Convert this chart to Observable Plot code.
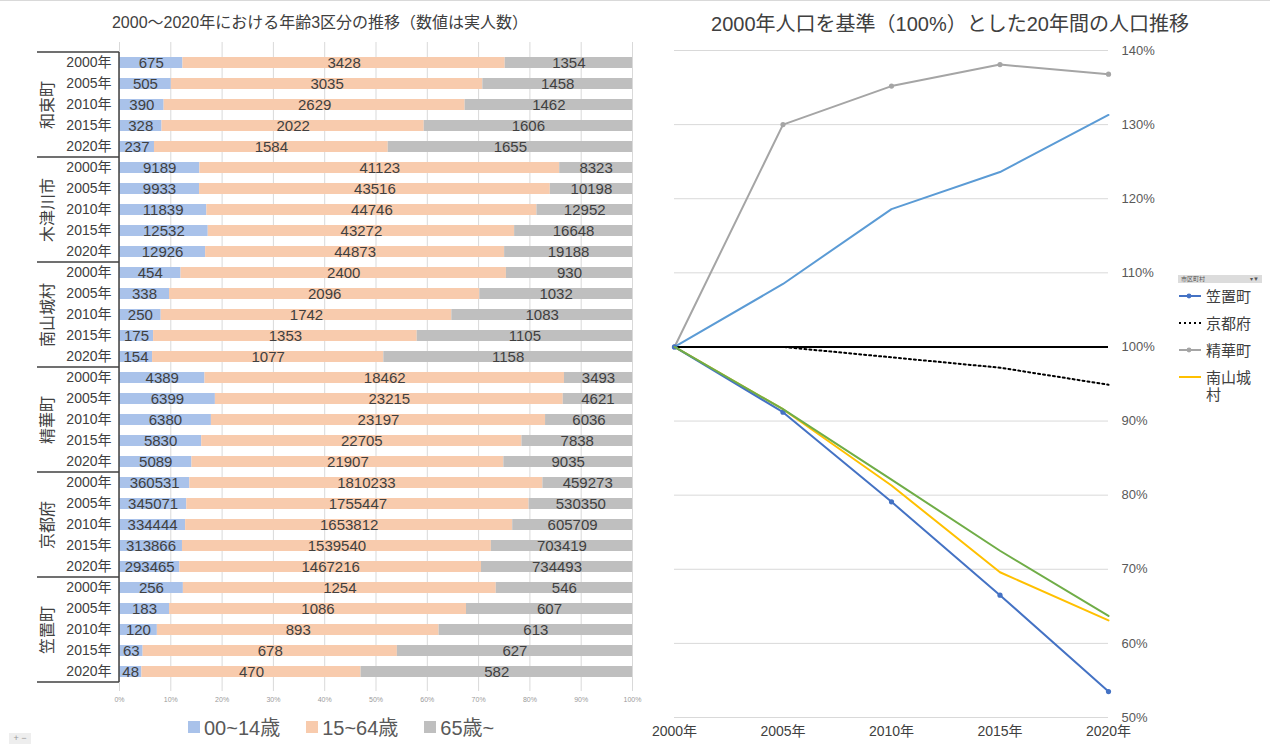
<!DOCTYPE html>
<html><head><meta charset="utf-8">
<script src="https://cdn.jsdelivr.net/npm/d3@7"></script>
<script src="https://cdn.jsdelivr.net/npm/@observablehq/plot@0.6"></script>
<style>
body{margin:0;width:1270px;height:744px;position:relative;overflow:hidden;background:#fff;font-family:"Liberation Sans","Noto Sans CJK JP",sans-serif;color:#404040}
.abs{position:absolute}
.lg1{display:inline-flex;align-items:center;font-size:20px;color:#595959}
.lg1 i{display:inline-block;width:12px;height:12px;margin-right:4px}
.lg2 div{display:flex;align-items:flex-start;font-size:15px;color:#404040;line-height:17px}
</style></head><body>
<div class="abs" style="left:0;top:0;width:1270px;height:1px;background:#d9d9d9"></div>
<div id="left" class="abs" style="left:0;top:0"></div>
<div id="right" class="abs" style="left:640px;top:0"></div>
<div class="abs" style="left:0;width:640px;top:9px;text-align:center;font-size:16px;color:#404040">2000～2020年における年齢3区分の推移（数値は実人数）</div>
<div class="abs" style="left:640px;width:620px;top:8px;text-align:center;font-size:20px;color:#404040">2000年人口を基準（100%）とした20年間の人口推移</div>
<div id="legend1" class="abs" style="left:188px;top:712px;white-space:nowrap"></div>
<div id="legend2" class="abs lg2" style="left:1178px;top:275px;width:84px"></div>
<div class="abs" style="left:9px;top:733px;width:22px;height:11px;background:#eee;font-size:9px;color:#999;line-height:11px;text-align:center">+ −</div>
<script>
// ---------- Left chart data ----------
const municipalities = ["和束町","木津川市","南山城村","精華町","京都府","笠置町"];
const years = ["2000年","2005年","2010年","2015年","2020年"];
const ageGroups = ["00~14歳","15~64歳","65歳~"];
const young = [675,505,390,328,237, 9189,9933,11839,12532,12926, 454,338,250,175,154, 4389,6399,6380,5830,5089, 360531,345071,334444,313866,293465, 256,183,120,63,48];
const working = [3428,3035,2629,2022,1584, 41123,43516,44746,43272,44873, 2400,2096,1742,1353,1077, 18462,23215,23197,22705,21907, 1810233,1755447,1653812,1539540,1467216, 1254,1086,893,678,470];
const elderly = [1354,1458,1462,1606,1655, 8323,10198,12952,16648,19188, 930,1032,1083,1105,1158, 3493,4621,6036,7838,9035, 459273,530350,605709,703419,734493, 546,607,613,627,582];
const xTicks = [0,0.1,0.2,0.3,0.4,0.5,0.6,0.7,0.8,0.9,1];
const ageColors = ["#A9C2EA","#F8CBAD","#BFBFBF"];

// ---------- Right chart data ----------
const lineYears = [2000,2005,2010,2015,2020];
const yTicks = [50,60,70,80,90,100,110,120,130,140];
const kasagi = [100,91.2,79.1,66.5,53.5];
const kyotoFu = [100,100.0,98.6,97.2,94.9];
const seika = [100,130.0,135.2,138.1,136.8];
const kizugawa = [100,108.5,118.6,123.6,131.3];
const minamiyamashiro = [100,91.6,81.3,69.6,63.1];
const wazuka = [100,91.6,82.1,72.5,63.7];
const baseline = [100];

const font = '"Liberation Sans","Noto Sans CJK JP",sans-serif';

// ---------- Left chart ----------
const rows = [];
const keys = [];
municipalities.forEach((m, i) => years.forEach((yr, j) => {
  const k = i * 5 + j;
  const key = m + "|" + yr;
  keys.push(key);
  [young, working, elderly].forEach((arr, a) => rows.push({key, muni: m, year: yr, age: ageGroups[a], value: arr[k]}));
}));
const groupMid = municipalities.map(m => ({muni: m, key: m + "|" + years[2]}));

const left = Plot.plot({
  width: 640, height: 710,
  marginLeft: 119, marginRight: 8, marginTop: 42, marginBottom: 19,
  style: {fontFamily: font, color: "#404040", background: "transparent", overflow: "visible"},
  x: {domain: [0, 1]},
  y: {domain: keys, paddingInner: 0.5, paddingOuter: 0.25},
  color: {domain: ageGroups, range: ageColors},
  marks: [
    Plot.gridX(xTicks, {stroke: "#d9d9d9", strokeOpacity: 1}),
    Plot.barX(rows, {x: "value", y: "key", fill: "age", order: ageGroups, offset: "normalize"}),
    Plot.textX(rows, Plot.stackX({x: "value", y: "key", z: "age", order: ageGroups, offset: "normalize", text: d => String(d.value), fill: "#404040", fontSize: 15})),
    Plot.axisX({ticks: xTicks, tickFormat: d => Math.round(d * 100) + "%", tickSize: 0, tickPadding: 6, fontSize: 7, label: null, color: "#9a9a9a"}),
    Plot.axisY({tickFormat: k => k.split("|")[1], tickSize: 0, tickPadding: 8, fontSize: 14, label: null, color: "#404040"}),
    Plot.text(groupMid, {y: "key", text: "muni", frameAnchor: "left", textAnchor: "middle", lineAnchor: "middle", dx: -72, rotate: -90, fontSize: 16, fill: "#404040"})
  ]
});
document.getElementById("left").appendChild(left);

// box lines around group labels, derived from the y scale
{
  const ys = left.scale("y");
  const step = ys.apply(keys[1]) - ys.apply(keys[0]);
  const pad = (step - ys.bandwidth) / 2;
  const x0 = left.scale("x").apply(0);
  const svg = d3.select(left);
  const bounds = municipalities.map((m, i) => ys.apply(keys[i * 5]) - pad);
  bounds.push(ys.apply(keys[keys.length - 1]) + ys.bandwidth + pad);
  const g = svg.append("g").attr("stroke", "#404040").attr("stroke-width", 1.5);
  bounds.forEach(b => g.append("line").attr("x1", 37).attr("x2", x0).attr("y1", b).attr("y2", b));
  g.append("line").attr("x1", x0).attr("x2", x0).attr("y1", bounds[0]).attr("y2", bounds[bounds.length - 1]);
}

// left legend
{
  const lg = document.getElementById("legend1");
  ageGroups.forEach((a, i) => {
    const s = document.createElement("span");
    s.className = "lg1";
    s.style.marginRight = i < 2 ? "26px" : "0";
    s.innerHTML = `<i style="background:${ageColors[i]}"></i>${a}`;
    lg.appendChild(s);
  });
}

// ---------- Right chart ----------
const series = [
  {name: "京都府", values: kyotoFu, color: "#000000", dash: "2,3", dots: false},
  {name: "精華町", values: seika, color: "#A5A5A5", dash: null, dots: true},
  {name: "木津川市", values: kizugawa, color: "#5B9BD5", dash: null, dots: false},
  {name: "南山城村", values: minamiyamashiro, color: "#FFC000", dash: null, dots: false},
  {name: "笠置町", values: kasagi, color: "#4472C4", dash: null, dots: true},
  {name: "和束町", values: wazuka, color: "#70AD47", dash: null, dots: false}
];
const lineMarks = [];
series.forEach(s => {
  const d = lineYears.map((yr, i) => ({year: yr, value: s.values[i]}));
  lineMarks.push(Plot.line(d, {x: "year", y: "value", stroke: s.color, strokeWidth: 2, strokeDasharray: s.dash || undefined}));
  if (s.dots) lineMarks.push(Plot.dot(d, {x: "year", y: "value", fill: s.color, r: 2.6}));
});

const right = Plot.plot({
  width: 630, height: 744,
  marginLeft: 34, marginRight: 162, marginTop: 50, marginBottom: 27,
  style: {fontFamily: font, color: "#595959", background: "transparent", overflow: "visible"},
  x: {type: "linear", domain: [2000, 2020]},
  y: {domain: [50, 140]},
  marks: [
    Plot.gridY(yTicks, {stroke: "#d9d9d9", strokeOpacity: 1}),
    Plot.ruleY(baseline, {stroke: "#000", strokeWidth: 2}),
    ...lineMarks,
    Plot.axisX({ticks: lineYears, tickFormat: d => d + "年", tickSize: 0, tickPadding: 9, fontSize: 14, label: null, color: "#404040"}),
    Plot.axisY({ticks: yTicks, anchor: "right", tickFormat: d => d + "%", tickSize: 0, tickPadding: 13, fontSize: 13, label: null, color: "#595959"})
  ]
});
document.getElementById("right").appendChild(right);

// right legend (partial, as in the reference)
{
  const lg = document.getElementById("legend2");
  lg.innerHTML = `<div style="height:8px;background:#dcdcdc;font-size:6px;line-height:8px;color:#555;justify-content:space-between;padding:0 3px;margin-bottom:5px"><span>市区町村</span><span>▾▼</span></div>`;
  const items = [series[4], series[0], series[1], series[3]];
  items.forEach(s => {
    const row = document.createElement("div");
    row.style.marginBottom = "10px";
    const dash = s.dash ? `stroke-dasharray="${s.dash}"` : "";
    const dot = s.dots ? `<circle cx="11" cy="8" r="2.4" fill="${s.color}"/>` : "";
    row.innerHTML = `<svg width="26" height="16" style="flex:none;margin-right:2px"><line x1="1" x2="23" y1="8" y2="8" stroke="${s.color}" stroke-width="2" ${dash}/>${dot}</svg><span style="width:54px">${s.name === "南山城村" ? "南山城<br>村" : s.name}</span>`;
    lg.appendChild(row);
  });
}
</script>
</body></html>
